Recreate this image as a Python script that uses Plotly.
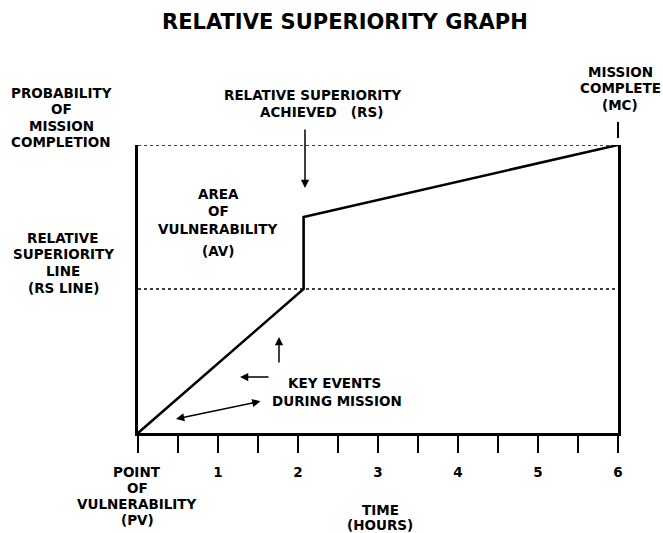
import plotly.graph_objects as go

# ---- data ----
time_points = [0, 2.07, 2.07, 6]          # hours
probability = [0, 0.5, 0.75, 1.0]         # probability of mission completion
rs_level = 0.5                            # relative superiority line
mc_level = 1.0                            # mission completion level
tick_values = [0, 0.5, 1, 1.5, 2, 2.5, 3, 3.5, 4, 4.5, 5, 5.5, 6]
tick_labels = ["", "", "1", "", "2", "", "3", "", "4", "", "5", "", "6"]

title_text = "RELATIVE SUPERIORITY GRAPH"
left_top_lines = ["PROBABILITY", "OF", "MISSION", "COMPLETION"]
left_mid_lines = ["RELATIVE", "SUPERIORITY", "LINE", "(RS LINE)"]
av_lines = ["AREA", "OF", "VULNERABILITY", "(AV)"]
rs_lines = ["RELATIVE SUPERIORITY", "ACHIEVED   (RS)"]
mc_lines = ["MISSION", "COMPLETE", "(MC)"]
key_lines = ["KEY EVENTS", "DURING MISSION"]
pv_lines = ["POINT", "OF", "VULNERABILITY", "(PV)"]
time_lines = ["TIME", "(HOURS)"]

FONT = "DejaVu Sans"
FS = 13.5

fig = go.Figure()

# dotted reference lines
fig.add_trace(go.Scatter(x=[0, 6], y=[mc_level, mc_level], mode="lines",
                         line=dict(color="black", width=1.4, dash="dot"),
                         cliponaxis=False, hoverinfo="skip"))
fig.add_trace(go.Scatter(x=[0, 6], y=[rs_level, rs_level], mode="lines",
                         line=dict(color="black", width=1.4, dash="dot"),
                         cliponaxis=False, hoverinfo="skip"))
# main line
fig.add_trace(go.Scatter(x=time_points, y=probability, mode="lines",
                         line=dict(color="black", width=2.6),
                         cliponaxis=False, hoverinfo="skip"))

# pixel helpers (plot area: x 138..618, y 433..145)
def dx(px):
    return (px - 138) / 80.0

def dy(py):
    return (433 - py) / 288.0

def px_paper(px):
    return (px - 138) / 480.0

ann = []

def label(t, cx, y, size=FS):
    ann.append(dict(x=px_paper(cx), y=dy(y), xref="paper", yref="paper", text=t,
                    showarrow=False, xanchor="center", yanchor="middle",
                    font=dict(family=FONT, size=size, color="black", weight="bold")))

def text_block(lines, cx, ys, size=FS):
    for t, y in zip(lines, ys):
        label(t, cx, y, size)

label(title_text, 345, 22, 21)
text_block(left_top_lines, 61, [92.7, 109, 125.5, 141.7])
text_block(left_mid_lines, 63, [237.7, 254.3, 271, 288])
text_block(av_lines, 218, [194, 211, 229, 250.7])
label(rs_lines[0], 313, 95)
label(rs_lines[1], 321, 111.7)
text_block(mc_lines, 620, [71.7, 88, 105])
label(key_lines[0], 334, 383)
label(key_lines[1], 337, 400.7)
text_block(pv_lines, 137, [471.7, 487.7, 503.5, 520])
text_block(time_lines, 380, [510, 525])

# arrows
def arrow(x0, y0, x1, y1, both=False):
    ann.append(dict(x=dx(x1), y=dy(y1), ax=dx(x0), ay=dy(y0),
                    xref="x", yref="y", axref="x", ayref="y", text="",
                    showarrow=True, arrowhead=2, arrowsize=1.1, arrowwidth=1.5,
                    arrowcolor="black", arrowside="end+start" if both else "end",
                    startarrowhead=2, startarrowsize=1.1))

arrow(305, 128, 305, 188)      # RS arrow
arrow(279, 364, 279, 337)      # up arrow
arrow(270, 377, 240, 377)      # left arrow
arrow(262, 401, 176, 419, both=True)

# MC tick above the right edge (paper refs so it is not clipped)
fig.add_shape(type="line", xref="paper", yref="paper", x0=1, x1=1,
              y0=dy(122), y1=dy(138), line=dict(color="black", width=2))

fig.update_layout(
    width=663, height=533,
    margin=dict(l=138, r=45, t=145, b=100),
    paper_bgcolor="white", plot_bgcolor="white",
    showlegend=False,
    annotations=ann,
    xaxis=dict(range=[0, 6], tickvals=tick_values, ticktext=tick_labels,
               showgrid=False, zeroline=False, showline=True, linecolor="black",
               linewidth=2.5, ticks="outside", ticklen=17, tickwidth=2,
               tickcolor="black", ticklabelstandoff=8,
               tickfont=dict(family=FONT, size=FS, color="black", weight="bold"),
               fixedrange=True),
    yaxis=dict(range=[0, 1], showgrid=False, zeroline=False, showline=True,
               mirror=True, linecolor="black", linewidth=2.5, showticklabels=False,
               ticks="", fixedrange=True),
)

fig.write_html("out.html", config={"displayModeBar": False},
               post_script="document.body.style.margin='0';document.body.style.overflow='hidden';")
